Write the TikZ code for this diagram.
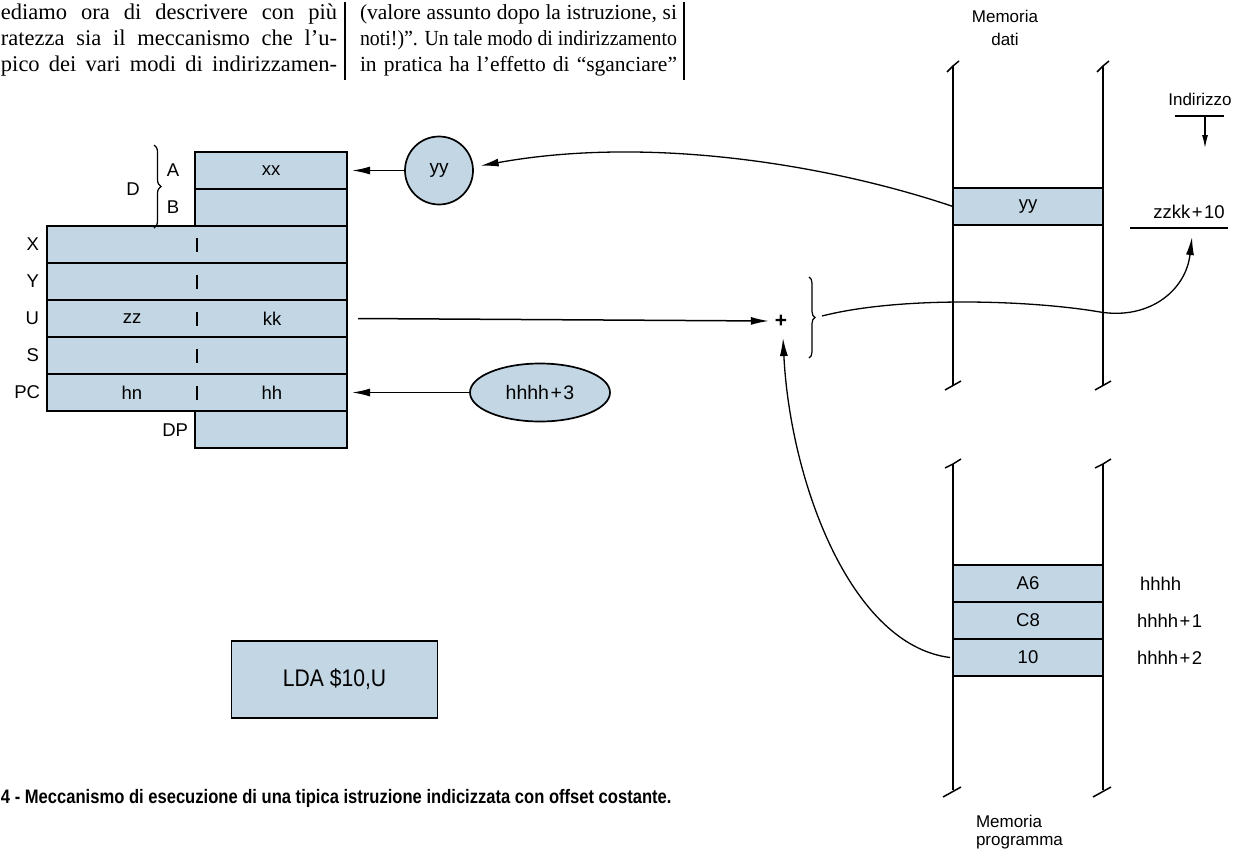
\documentclass[tikz,border=0pt]{standalone}
\usepackage{graphicx}
\usepackage{fontspec}
\setmainfont{Liberation Serif}
\setsansfont{Liberation Sans}
\newfontfamily\capfont[FakeStretch=0.85]{Liberation Sans}
\newfontfamily\ldafont[FakeStretch=0.88]{Liberation Sans}
\usetikzlibrary{arrows.meta,decorations.pathreplacing,shapes.geometric}
\definecolor{regblue}{RGB}{194,214,228}
\newcommand{\jl}[2]{\makebox[#1][s]{#2}}
\newcommand{\jr}[2]{\resizebox{#1}{\height}{#2}}
\newcommand{\pl}{\kern1.5pt+\kern1.5pt}
\begin{document}
\begin{tikzpicture}[x=1pt,y=-1pt,
  every node/.style={inner sep=0pt, outer sep=0pt},
  para/.style={font=\fontsize{21.5}{25}\selectfont, anchor=base west},
  lpara/.style={font=\fontsize{22.5}{25}\selectfont, anchor=base west},
  lbl/.style={font=\sffamily\fontsize{18.5}{20}\selectfont},
  mlbl/.style={font=\sffamily\fontsize{17}{20}\selectfont},
  reg/.style={draw, line width=2.6pt, fill=regblue, minimum width=300pt, minimum height=37pt, anchor=north west},
  half/.style={reg, minimum width=152pt},
  cell/.style={draw, line width=2.2pt, fill=regblue, minimum width=150pt, minimum height=37pt, anchor=north west},
  wall/.style={line width=2.2pt},
  arr/.style={line width=1.5pt, -{Latex[length=18pt,width=8pt]}},
  thin/.style={line width=1.2pt},
  divtick/.style={line width=1.8pt},
]
\useasboundingbox (0,0) rectangle (1235,855);

% ---- running text ----
\node[lpara] (p1) at (1,19) {\jl{336pt}{ediamo ora di descrivere con più}};
\node[lpara] (p2) at (1,45) {\jl{336pt}{ratezza sia il meccanismo che l’u-}};
\node[lpara] (p3) at (1,71) {\jl{336pt}{pico dei vari modi di indirizzamen-}};
\node[para] (q1) at (360,19) {\jl{317pt}{(valore assunto dopo la istruzione, si}};
\node[para] (q2) at (360,45) {\jr{317pt}{noti!)”. Un tale modo di indirizzamento}};
\node[para] (q3) at (360,71) {\jl{317pt}{in pratica ha l’effetto di “sganciare”}};
\coordinate (bar1t) at (345,2);   \coordinate (bar1b) at (345,80);
\coordinate (bar2t) at (684,2);   \coordinate (bar2b) at (684,80);
\draw[line width=1.1pt] (bar1t) -- (bar1b);
\draw[line width=1.1pt] (bar2t) -- (bar2b);

% ---- registers ----
\node[half] (A)  at (195,152) {};
\node[half] (B)  at (195,189) {};
\node[half] (DP) at (195,411) {};
\node[reg] (X)  at (47,226) {};
\node[reg] (Y)  at (47,263) {};
\node[reg] (U)  at (47,300) {};
\node[reg] (S)  at (47,337) {};
\node[reg] (PC) at (47,374) {};
\foreach \r in {X,Y,U,S,PC}
  \draw[divtick] ([yshift=7pt]\r.center) -- ([yshift=-7pt]\r.center);

\node[lbl] (xx) at (A.center) {xx};
\node[lbl] (zz) at (132,318.5) {zz};
\node[lbl] (kk) at (272,318.5) {kk};
\node[lbl] (hn) at (132,392.5) {hn};
\node[lbl] (hh) at (272,392.5) {hh};

\node[lbl, anchor=east] (lX)  at (39,244.5) {X};
\node[lbl, anchor=east] (lY)  at (39,281.5) {Y};
\node[lbl, anchor=east] (lU)  at (39,318.5) {U};
\node[lbl, anchor=east] (lS)  at (39,355.5) {S};
\node[lbl, anchor=east] (lPC) at (40,392.5) {PC};
\node[lbl] (lA) at (173,170.5) {A};
\node[lbl] (lB) at (173,207.5) {B};
\node[lbl] (lD) at (133,189) {D};
\node[lbl, anchor=east] (lDP) at (188,430) {DP};
\coordinate (dbT) at (154,145);
\coordinate (dbB) at (154,228);
\draw[thin, decorate, decoration={brace, amplitude=7pt}] (dbT) -- (dbB);

% ---- yy circle and hhhh+3 ellipse ----
\node[circle, draw, line width=1.7pt, fill=regblue, minimum size=68pt, font=\sffamily\fontsize{19}{20}\selectfont] (yyc) at (439,170.5) {yy};
\draw[arr] (yyc.west) -- ([xshift=5pt]A.east);
\node[ellipse, draw, line width=1.7pt, fill=regblue, minimum width=140pt, minimum height=58pt, font=\sffamily\fontsize{19.5}{20}\selectfont] (ell) at (540,392.5) {hhhh\pl 3};
\draw[arr] (ell.west) -- ([xshift=5pt]PC.east);

% ---- adder ----
\node[font=\sffamily\bfseries\fontsize{21}{21}\selectfont] (plus) at (781,321) {+};
\draw[arr] ([xshift=11pt]U.east) -- ([xshift=-6pt]plus.west);
\coordinate (pbT) at (809,277);
\coordinate (pbB) at (809,358);
\draw[thin, decorate, decoration={brace, amplitude=6pt}] (pbT) -- (pbB);
\coordinate (pbTip) at (822,316);
\coordinate (plusB) at (783,338);

% ---- data memory ----
\node[mlbl] (md1) at (1005,16) {Memoria};
\node[mlbl] (md2) at (1005,39) {dati};
\node[cell] (myy) at (953,188) {};
\node[lbl] (tyy) at (myy.center) {yy};
\foreach \x in {953,1103} {
  \draw[wall] (\x,385) -- (\x,66);
  \draw[line width=1.5pt] (\x-6,72) -- (\x,66) -- (\x+6,61);
  \draw[line width=1.5pt] (\x-8,390) -- (\x+8,381);
}

% ---- address ----
\node[mlbl] (ind) at (1200,99) {Indirizzo};
\coordinate (indL) at (1175,116);
\coordinate (indR) at (1224,116);
\coordinate (indA) at (1205,116);
\coordinate (indB) at (1205,148);
\draw[thin] (indL) -- (indR);
\draw[line width=1.2pt, -{Latex[length=13pt,width=6pt]}] (indA) -- (indB);
\node[lbl] (zz10) at (1189,212) {zzkk\pl 10};
\coordinate (zlL) at (1130,228);
\coordinate (zlR) at (1228,228);
\draw[thin] (zlL) -- (zlR);
\coordinate (zzTip) at (1192,237);

% ---- program memory ----
\node[cell] (mA6) at (953,565) {};
\node[cell] (mC8) at (953,602) {};
\node[cell] (m10) at (953,639) {};
\node[lbl] (tA6) at (mA6.center) {A6};
\node[lbl] (tC8) at (mC8.center) {C8};
\node[lbl] (t10) at (m10.center) {10};
\foreach \x in {953,1103} {
  \draw[wall] (\x,790) -- (\x,464);
  \draw[line width=1.5pt] (\x-8,468) -- (\x,464) -- (\x+8,459);
  \draw[line width=1.5pt] (\x-10,797) -- (\x+8,787);
}
\node[lbl, anchor=west] (h0) at (1140,583.5) {hhhh};
\node[lbl, anchor=west] (h1) at (1137,620.5) {hhhh\pl 1};
\node[lbl, anchor=west] (h2) at (1137,657.5) {hhhh\pl 2};
\node[mlbl, anchor=west] (mp1) at (976,821) {Memoria};
\node[mlbl, anchor=west] (mp2) at (976,843) {programma};

% ---- curved connectors ----
\draw[arr, line width=1.3pt] (myy.west) .. controls (830,165) and (650,135) .. ([xshift=8pt]yyc.8);
\draw[arr, line width=1.3pt] (pbTip) .. controls (900,296) and (1030,300) .. (1100,312)
      .. controls (1150,320) and (1186,290) .. (zzTip);
\draw[arr, line width=1.3pt] ([xshift=-3pt]m10.west) .. controls (850,645) and (790,480) .. (plusB);

% ---- instruction box and caption ----
\node[draw, line width=1.6pt, fill=regblue, minimum width=206pt, minimum height=77pt, font=\ldafont\fontsize{24}{24}\selectfont] (lda) at (334.5,679.5) {LDA \$10,U};
\node[font=\capfont\bfseries\fontsize{19.5}{20}\selectfont, anchor=base west] (cap) at (1,803) {4 - Meccanismo di esecuzione di una tipica istruzione indicizzata con offset costante.};
\end{tikzpicture}
\end{document}
